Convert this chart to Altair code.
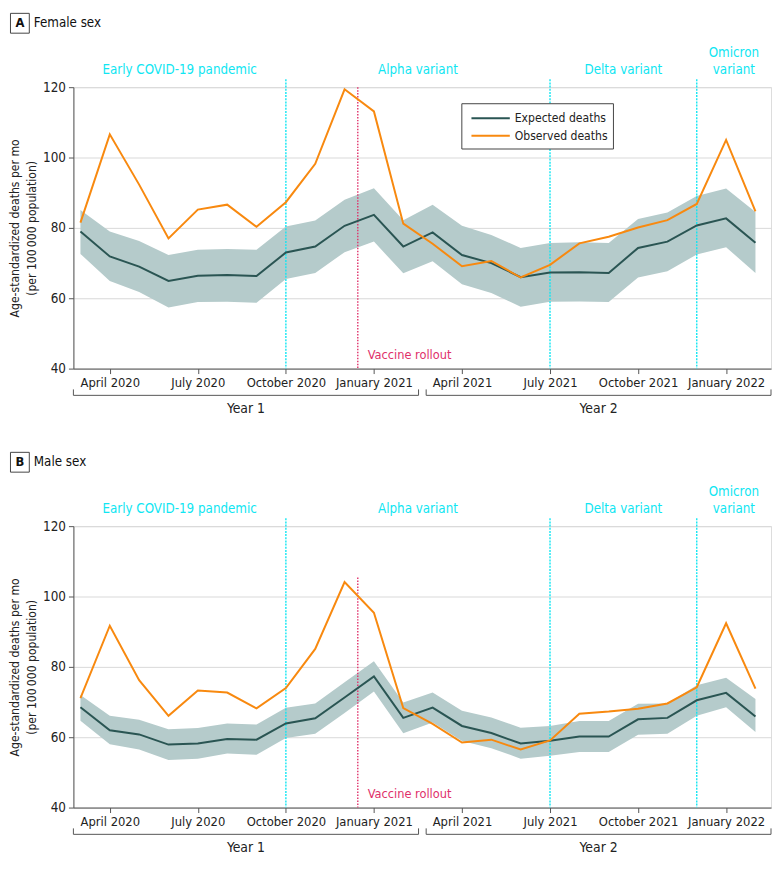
import altair as alt
import pandas as pd

months = ["March 2020", "April 2020", "May 2020", "June 2020", "July 2020", "August 2020",
          "September 2020", "October 2020", "November 2020", "December 2020", "January 2021",
          "February 2021", "March 2021", "April 2021", "May 2021", "June 2021", "July 2021",
          "August 2021", "September 2021", "October 2021", "November 2021", "December 2021",
          "January 2022", "February 2022"]

female_observed = [81.5, 106.6, 92.3, 77.0, 85.2, 86.6, 80.3, 87.3, 98.2, 119.4, 113.1, 81.2,
                   75.5, 69.1, 70.6, 65.9, 69.5, 75.6, 77.5, 80.1, 82.2, 86.8, 105.0, 84.7]
female_expected = [79.0, 71.9, 69.0, 64.9, 66.4, 66.6, 66.3, 73.0, 74.7, 80.6, 83.7, 74.7,
                   78.7, 72.3, 70.0, 66.0, 67.3, 67.4, 67.2, 74.3, 76.1, 80.7, 82.7, 75.8]
female_upper = [85.1, 79.0, 76.3, 72.3, 73.8, 74.0, 73.8, 80.4, 82.1, 88.0, 91.3, 82.2,
                86.6, 80.6, 78.0, 74.3, 75.7, 75.9, 75.7, 82.5, 84.4, 89.1, 91.2, 84.5]
female_lower = [72.6, 64.9, 61.8, 57.4, 58.9, 59.0, 58.7, 65.5, 67.2, 73.1, 76.1, 67.1,
                70.5, 64.0, 61.5, 57.6, 59.0, 59.1, 58.9, 65.9, 67.7, 72.4, 74.5, 67.2]

male_observed = [71.1, 91.7, 76.2, 66.1, 73.3, 72.7, 68.2, 74.0, 85.1, 104.1, 95.4, 68.3,
                 63.8, 58.5, 59.3, 56.5, 59.1, 66.7, 67.3, 68.1, 69.6, 74.2, 92.4, 73.8]
male_expected = [68.5, 62.0, 60.8, 57.9, 58.2, 59.5, 59.3, 63.9, 65.4, 71.3, 77.3, 65.5,
                 68.4, 63.2, 61.2, 58.2, 59.0, 60.2, 60.2, 65.1, 65.5, 70.5, 72.6, 65.9]
male_upper = [72.0, 66.1, 65.0, 62.3, 62.6, 63.9, 63.6, 68.4, 69.6, 75.6, 81.6, 69.9,
              72.7, 67.5, 65.6, 62.7, 63.2, 64.6, 64.6, 69.5, 69.6, 74.8, 76.9, 70.9]
male_lower = [64.7, 58.0, 56.5, 53.5, 53.9, 55.4, 55.0, 59.8, 61.0, 66.9, 73.0, 61.1,
              64.2, 58.9, 56.9, 53.9, 54.7, 55.8, 55.8, 60.7, 61.0, 66.1, 68.5, 61.5]

tick_months = [1, 4, 7, 10, 13, 16, 19, 22]
y_ticks = [40, 60, 80, 100, 120]

phase_line1 = ["", "", "", "Omicron"]
phase_line2 = ["Early COVID-19 pandemic", "Alpha variant", "Delta variant", "variant"]
x_min, x_max = -0.24, 23.53
phase_starts = [x_min, 7, 16, 21]
phase_ends = [7, 16, 21, x_max]
phase_lines = [7, 16, 21]

vaccine_index = 9.45
vaccine_label = "Vaccine rollout"
vaccine_tops = {"A": 120.0, "B": 105.4}

year_names = ["Year 1", "Year 2"]
year_starts = [x_min, 11.78]
year_ends = [11.52, x_max]

legend_names = ["Expected deaths", "Observed deaths"]

FONT = "DejaVu Sans Condensed"
W, H = 704, 284
BAND = "#b5cbcb"
EXP = "#2a5553"
OBS = "#f8890f"
CYAN = "#10e6f2"
RED = "#e0306a"
AX = "#555555"
TXT = "#222222"

label_expr = "[" + ",".join("'" + m + "'" for m in months) + "][datum.value]"

xscale = alt.Scale(domain=[x_min, x_max], nice=False, zero=False)
yscale = alt.Scale(domain=[40, 120], nice=False, zero=False)


def panel(letter, title, obs, exp, lo, hi, show_legend):
    df = pd.DataFrame({"i": list(range(len(months))), "obs": obs, "exp": exp, "lo": lo, "hi": hi})
    base = alt.Chart(df)
    xax = alt.X("i:Q", scale=xscale,
                axis=alt.Axis(values=tick_months, labelExpr=label_expr, grid=False, title=None,
                              tickSize=5, labelPadding=3, labelFontSize=13, labelFont=FONT,
                              labelColor=TXT, domainColor=AX, tickColor=AX, labelFlush=False,
                              labelOverlap=False))
    yax = alt.Y("lo:Q", scale=yscale,
                axis=alt.Axis(values=y_ticks, grid=True, gridColor="#d9d9d9", tickSize=5,
                              labelPadding=3, labelFontSize=13.5, labelFont=FONT, labelColor=TXT,
                              domainColor=AX, tickColor=AX,
                              title=["Age-standardized deaths per mo", "(per 100\u2009000 population)"],
                              titleFont=FONT, titleFontSize=12.2, titleFontWeight="normal",
                              titleColor=TXT, titlePadding=4, titleLineHeight=17))
    band = base.mark_area(color=BAND, opacity=1).encode(x=xax, y=yax, y2="hi:Q")

    rules_df = pd.DataFrame({"x": phase_lines})
    cyan = alt.Chart(rules_df).mark_rule(color=CYAN, strokeDash=[2, 1.2], strokeWidth=1.4).encode(
        x=alt.X("x:Q", scale=xscale), y=alt.value(-8), y2=alt.value(H))

    vdf = pd.DataFrame({"x": [vaccine_index], "top": [vaccine_tops[letter]], "bot": [40], "t": [vaccine_label]})
    vrule = alt.Chart(vdf).mark_rule(color=RED, strokeDash=[1.5, 1.5], strokeWidth=1.4).encode(
        x=alt.X("x:Q", scale=xscale), y=alt.Y("top:Q", scale=yscale), y2="bot:Q")
    vtext = alt.Chart(vdf).mark_text(color=RED, align="left", baseline="middle", dx=10,
                                     fontSize=12.8, font=FONT).encode(
        x=alt.X("x:Q", scale=xscale), y=alt.value(H - 14), text="t:N")

    exp_line = base.mark_line(color=EXP, strokeWidth=2).encode(x=alt.X("i:Q", scale=xscale),
                                                               y=alt.Y("exp:Q", scale=yscale))
    obs_line = base.mark_line(color=OBS, strokeWidth=2).encode(x=alt.X("i:Q", scale=xscale),
                                                               y=alt.Y("obs:Q", scale=yscale))

    pdf = pd.DataFrame({"a": phase_line1, "b": phase_line2, "s": phase_starts, "e": phase_ends})
    pbase = alt.Chart(pdf).transform_calculate(m="(datum.s + datum.e) / 2")
    ptext2 = pbase.mark_text(color=CYAN, align="center", baseline="middle", fontSize=13.4,
                             font=FONT).encode(
        x=alt.X("m:Q", scale=xscale), y=alt.value(-17), text="b:N")
    ptext1 = pbase.transform_filter("datum.a != ''").mark_text(
        color=CYAN, align="center", baseline="middle", fontSize=13.4, font=FONT).encode(
        x=alt.X("m:Q", scale=xscale), y=alt.value(-34), text="a:N")

    ydf = pd.DataFrame({"name": year_names, "s": year_starts, "e": year_ends})
    yfold = alt.Chart(ydf).transform_fold(["s", "e"], as_=["k", "xv"])
    hbr = alt.Chart(ydf).mark_rule(color=AX, strokeWidth=1).encode(
        x=alt.X("s:Q", scale=xscale), x2="e:Q", y=alt.value(H + 27))
    vbr = yfold.mark_rule(color=AX, strokeWidth=1).encode(
        x=alt.X("xv:Q", scale=xscale), y=alt.value(H + 21), y2=alt.value(H + 27))
    ytext = alt.Chart(ydf).transform_calculate(m="(datum.s + datum.e) / 2").mark_text(
        color=TXT, align="center", baseline="middle", fontSize=14, font=FONT).encode(
        x=alt.X("m:Q", scale=xscale), y=alt.value(H + 41), text="name:N")

    hdf = pd.DataFrame({"l": [letter], "t": [title]})
    hbox = alt.Chart(hdf).mark_rect(fill="white", stroke="#444", strokeWidth=1).encode(
        x=alt.value(-63.5), x2=alt.value(-44.5), y=alt.value(-74.5), y2=alt.value(-54.5))
    hlet = alt.Chart(hdf).mark_text(fontSize=13, fontWeight="bold", font=FONT, color="#111",
                                    align="center", baseline="middle").encode(
        x=alt.value(-54), y=alt.value(-64.5), text="l:N")
    htit = alt.Chart(hdf).mark_text(fontSize=13.4, font=FONT, color="#111", align="left",
                                    baseline="middle").encode(
        x=alt.value(-40), y=alt.value(-64.5), text="t:N")

    layers = [band, cyan, vrule, vtext, exp_line, obs_line, ptext2, ptext1, hbr, vbr, ytext,
              hbox, hlet, htit]

    if show_legend:
        ldf = pd.DataFrame({"name": legend_names})
        lbox = alt.Chart(ldf.head(1)).mark_rect(fill="white", stroke="#444", strokeWidth=1).encode(
            x=alt.value(392), x2=alt.value(545), y=alt.value(16.7), y2=alt.value(62.4))
        l1 = alt.Chart(ldf.head(1)).mark_rule(color=EXP, strokeWidth=2).encode(
            x=alt.value(401.7), x2=alt.value(440.4), y=alt.value(31.4))
        l2 = alt.Chart(ldf.tail(1)).mark_rule(color=OBS, strokeWidth=2).encode(
            x=alt.value(401.7), x2=alt.value(440.4), y=alt.value(49))
        t1 = alt.Chart(ldf.head(1)).mark_text(align="left", baseline="middle", fontSize=12.2,
                                              font=FONT, color=TXT).encode(
            x=alt.value(445.4), y=alt.value(31.4), text="name:N")
        t2 = alt.Chart(ldf.tail(1)).mark_text(align="left", baseline="middle", fontSize=12.2,
                                              font=FONT, color=TXT).encode(
            x=alt.value(445.4), y=alt.value(49), text="name:N")
        layers += [lbox, l1, l2, t1, t2]

    return alt.layer(*layers).properties(width=W, height=H)


top = panel("A", "Female sex", female_observed, female_expected, female_lower, female_upper, True)
bottom = panel("B", "Male sex", male_observed, male_expected, male_lower, male_upper, False)

chart = alt.vconcat(top, bottom, spacing=34).properties(
    padding={"left": 0, "top": 0, "right": 0, "bottom": 0}
).configure_view(stroke=None).configure(background="white")

chart.save("out.html", embed_options={"renderer": "svg", "actions": False})
